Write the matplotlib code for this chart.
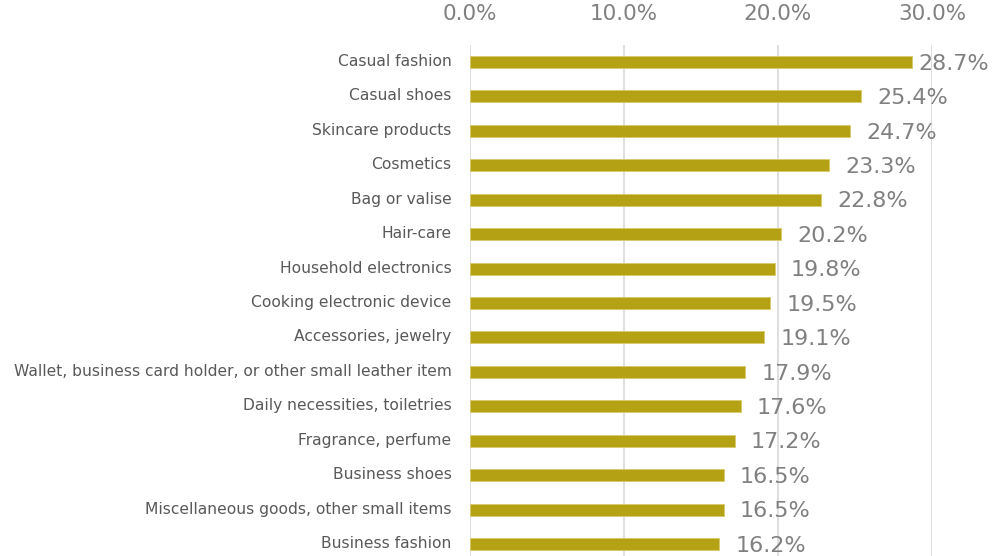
import matplotlib
matplotlib.use("Agg")
import matplotlib.pyplot as plt
import matplotlib.transforms as mtransforms

plt.rcParams["font.family"] = ["DejaVu Sans"]

categories = [
    "Casual fashion", "Casual shoes", "Skincare products", "Cosmetics",
    "Bag or valise", "Hair-care", "Household electronics",
    "Cooking electronic device", "Accessories, jewelry",
    "Wallet, business card holder, or other small leather item",
    "Daily necessities, toiletries", "Fragrance, perfume", "Business shoes",
    "Miscellaneous goods, other small items", "Business fashion",
]
values = [28.7, 25.4, 24.7, 23.3, 22.8, 20.2, 19.8, 19.5, 19.1, 17.9, 17.6, 17.2, 16.5, 16.5, 16.2]
xticks = [0, 10, 20, 30]
xtick_labels = ["0.0%", "10.0%", "20.0%", "30.0%"]

W, H = 998, 556
fig = plt.figure(figsize=(W / 100, H / 100), dpi=100)
left = 469.5 / W
right = 932 / W
top_px = 44.8
step = 34.43
bottom_px = top_px + step * len(categories)
ax = fig.add_axes([left, 1 - bottom_px / H, right - left, (bottom_px - top_px) / H])

ypos = list(range(len(categories)))
ax.barh(ypos, values, height=0.35, color="#B5A114", edgecolor="#D8CB6A", linewidth=0.6, zorder=3)
ax.set_ylim(len(categories) - 0.5, -0.5)
ax.set_xlim(0, 30)
ax.set_yticks(ypos)
ax.set_yticklabels(categories, fontsize=11.2, color="#595959")
ax.tick_params(axis="y", length=0, pad=13)
shift = mtransforms.ScaledTranslation(0, 2 / 100, fig.dpi_scale_trans)
for lbl in ax.get_yticklabels():
    lbl.set_transform(lbl.get_transform() + shift)
ax.xaxis.tick_top()
ax.set_xticks(xticks)
ax.set_xticklabels(xtick_labels, fontsize=15.5, color="#808080")
ax.tick_params(axis="x", length=0, pad=15)
for s in ax.spines.values():
    s.set_visible(False)
ax.grid(axis="x", color="#D9D9D9", linewidth=1.2, zorder=0)
ax.set_axisbelow(True)

for y, v in zip(ypos, values):
    ax.text(min(v + 1.05, 29.1), y + 0.05, f"{v:.1f}%", va="center", ha="left",
            fontsize=16, color="#808080", clip_on=False, zorder=4)

fig.savefig("out.png", dpi=100)
